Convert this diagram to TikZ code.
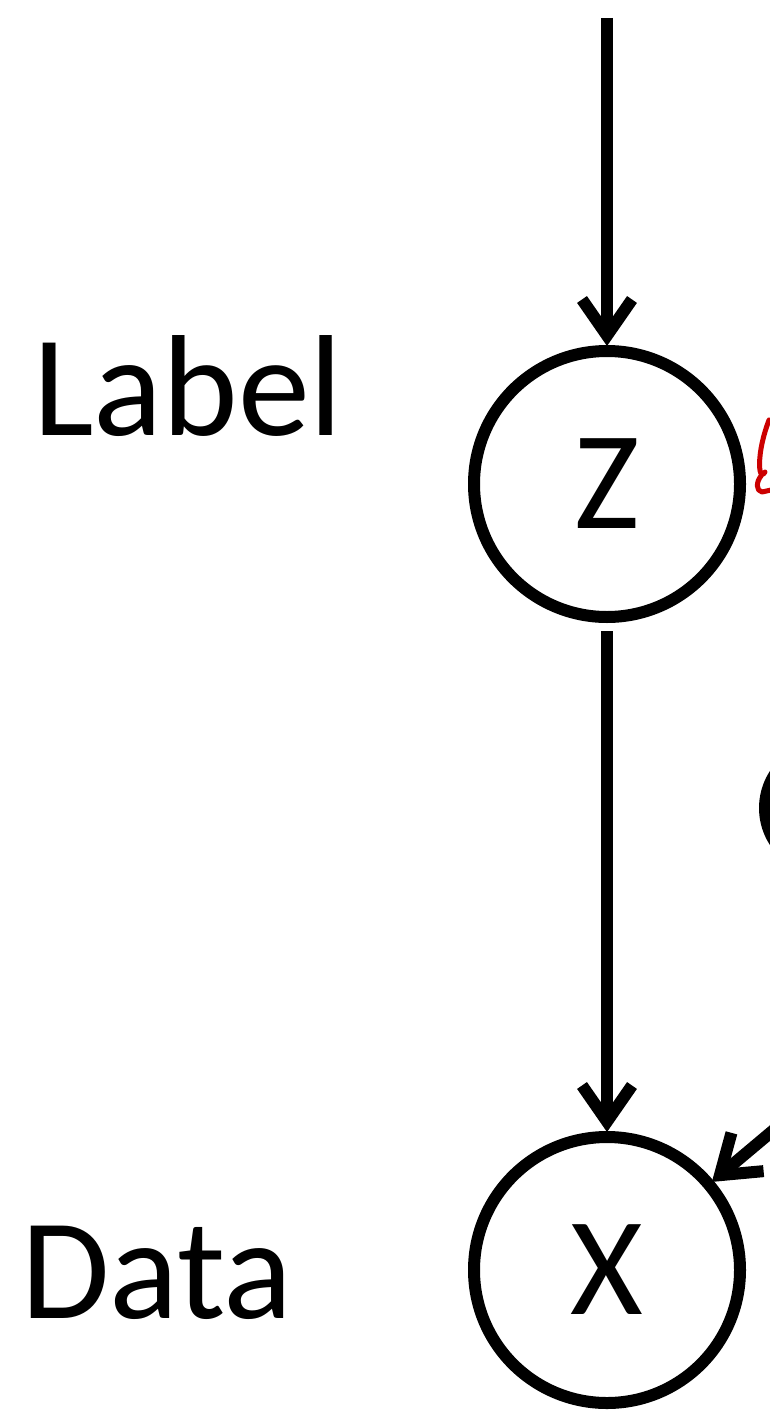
\documentclass[tikz,border=0pt]{standalone}
\usepackage{fontspec}
\setmainfont{Carlito}
\usetikzlibrary{arrows.meta}
\definecolor{inkred}{HTML}{CC0000}
\begin{document}
\begin{tikzpicture}[x=1pt,y=-1pt,
  every node/.style={inner sep=0pt, outer sep=0pt},
  var/.style={circle, draw, line width=12pt, minimum size=266pt, font=\fontsize{140}{168}\selectfont},
  lbl/.style={anchor=base west, font=\fontsize{144}{172}\selectfont},
  edge/.style={line width=12pt, -{Straight Barb[length=36pt,width=50pt]}},
  squiggle/.style={draw=inkred, line width=5pt, line cap=round, line join=round}
]
\useasboundingbox (0,0) rectangle (770,1412);
\clip (0,0) rectangle (770,1412);
\node[var] (Z) at (607,484) {Z};
\node[var] (X) at (607,1270) {X};
\node[lbl] (label) at (33,435) {Label};
\node[lbl] (data) at (21,1318) {Data};
\coordinate (top) at (607,18);
\coordinate (src) at (913,1013);
\draw[edge, shorten >=5pt] (top) -- (Z);
\draw[edge, shorten <=14pt, shorten >=5pt] (Z) -- (X);
\draw[edge, shorten >=4pt] (src) -- (X);
\fill (827,808) circle (68);
\draw[squiggle] (769,420) .. controls (763,436) and (760,450) .. (759.5,463) .. controls (759.5,472) and (761,478) .. (765,472);
\draw[squiggle] (761,476) .. controls (756,482) and (756,491) .. (762,492) -- (771,490);
\end{tikzpicture}
\end{document}
